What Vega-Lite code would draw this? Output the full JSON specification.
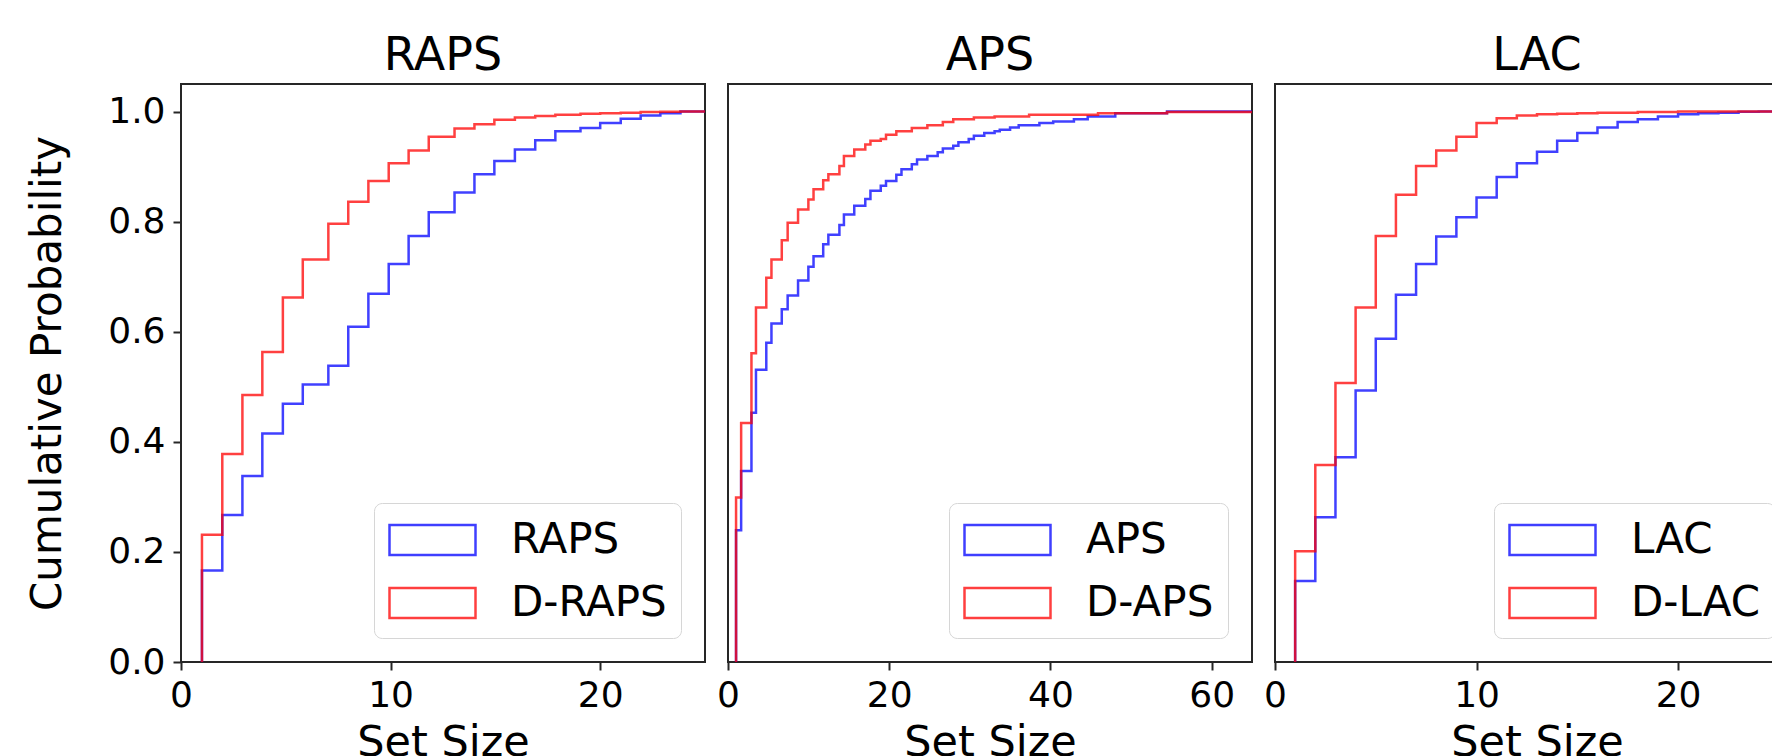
{
  "$schema": "https://vega.github.io/schema/vega-lite/v6.json",
  "background": "white",
  "padding": {"left": 25, "top": 32, "right": 0, "bottom": 0},
  "bounds": "flush",
  "spacing": 23,
  "config": {
    "font": "DejaVu Sans",
    "view": {"stroke": "#262626", "strokeWidth": 2},
    "axis": {"domain": false, "grid": false, "tickColor": "#262626", "tickWidth": 2, "tickSize": 8, "labelFontSize": 36, "labelColor": "black", "labelPadding": 8, "labelFlush": false, "titleFontSize": 43, "titleFontWeight": "normal", "titleColor": "black"},
    "title": {"fontSize": 46, "fontWeight": "normal", "color": "black", "offset": 4},
    "legend": {"labelFontSize": 42, "labelColor": "black", "labelOffset": 77, "rowPadding": 19, "padding": 14, "strokeColor": "#d6d6d6", "fillColor": "rgba(255,255,255,0.8)", "cornerRadius": 8, "labelLimit": 400, "symbolType": "M-1,-0.7H3V0.7H-1Z", "symbolSize": 1849, "symbolStrokeWidth": 2.5, "symbolFillColor": "transparent", "symbolOpacity": 0.75}
  },
  "datasets": {
    "raps": [
      {"method": "RAPS", "x": 1, "y": 0}, {"method": "RAPS", "x": 1, "y": 0.166}, {"method": "RAPS", "x": 1.97, "y": 0.267}, {"method": "RAPS", "x": 2.93, "y": 0.338}, {"method": "RAPS", "x": 3.88, "y": 0.415}, {"method": "RAPS", "x": 4.86, "y": 0.469}, {"method": "RAPS", "x": 5.81, "y": 0.504}, {"method": "RAPS", "x": 7.03, "y": 0.538}, {"method": "RAPS", "x": 7.98, "y": 0.609}, {"method": "RAPS", "x": 8.94, "y": 0.669}, {"method": "RAPS", "x": 9.91, "y": 0.723}, {"method": "RAPS", "x": 10.86, "y": 0.774}, {"method": "RAPS", "x": 11.82, "y": 0.817}, {"method": "RAPS", "x": 13.05, "y": 0.853}, {"method": "RAPS", "x": 14.0, "y": 0.886}, {"method": "RAPS", "x": 14.95, "y": 0.91}, {"method": "RAPS", "x": 15.93, "y": 0.931}, {"method": "RAPS", "x": 16.9, "y": 0.948}, {"method": "RAPS", "x": 17.86, "y": 0.964}, {"method": "RAPS", "x": 19.06, "y": 0.97}, {"method": "RAPS", "x": 20.0, "y": 0.979}, {"method": "RAPS", "x": 20.98, "y": 0.987}, {"method": "RAPS", "x": 21.93, "y": 0.993}, {"method": "RAPS", "x": 22.87, "y": 0.997}, {"method": "RAPS", "x": 23.83, "y": 1.0}, {"method": "RAPS", "x": 25, "y": 1.0},
      {"method": "D-RAPS", "x": 1, "y": 0}, {"method": "D-RAPS", "x": 1, "y": 0.231}, {"method": "D-RAPS", "x": 1.97, "y": 0.378}, {"method": "D-RAPS", "x": 2.93, "y": 0.485}, {"method": "D-RAPS", "x": 3.88, "y": 0.563}, {"method": "D-RAPS", "x": 4.86, "y": 0.662}, {"method": "D-RAPS", "x": 5.81, "y": 0.731}, {"method": "D-RAPS", "x": 7.03, "y": 0.796}, {"method": "D-RAPS", "x": 7.98, "y": 0.836}, {"method": "D-RAPS", "x": 8.94, "y": 0.874}, {"method": "D-RAPS", "x": 9.91, "y": 0.906}, {"method": "D-RAPS", "x": 10.86, "y": 0.929}, {"method": "D-RAPS", "x": 11.82, "y": 0.954}, {"method": "D-RAPS", "x": 13.05, "y": 0.969}, {"method": "D-RAPS", "x": 14.0, "y": 0.977}, {"method": "D-RAPS", "x": 14.95, "y": 0.985}, {"method": "D-RAPS", "x": 15.93, "y": 0.989}, {"method": "D-RAPS", "x": 16.9, "y": 0.992}, {"method": "D-RAPS", "x": 17.86, "y": 0.994}, {"method": "D-RAPS", "x": 19.06, "y": 0.996}, {"method": "D-RAPS", "x": 20.0, "y": 0.997}, {"method": "D-RAPS", "x": 20.98, "y": 0.998}, {"method": "D-RAPS", "x": 21.93, "y": 0.999}, {"method": "D-RAPS", "x": 22.87, "y": 0.9995}, {"method": "D-RAPS", "x": 23.83, "y": 1.0}, {"method": "D-RAPS", "x": 25, "y": 1.0}
    ],
    "aps": [
      {"method": "APS", "x": 1, "y": 0}, {"method": "APS", "x": 1, "y": 0.2395}, {"method": "APS", "x": 1.63, "y": 0.347}, {"method": "APS", "x": 2.91, "y": 0.453}, {"method": "APS", "x": 3.47, "y": 0.531}, {"method": "APS", "x": 4.75, "y": 0.58}, {"method": "APS", "x": 5.39, "y": 0.615}, {"method": "APS", "x": 6.67, "y": 0.641}, {"method": "APS", "x": 7.4, "y": 0.666}, {"method": "APS", "x": 8.69, "y": 0.693}, {"method": "APS", "x": 9.97, "y": 0.718}, {"method": "APS", "x": 10.61, "y": 0.737}, {"method": "APS", "x": 11.81, "y": 0.759}, {"method": "APS", "x": 12.45, "y": 0.776}, {"method": "APS", "x": 13.82, "y": 0.794}, {"method": "APS", "x": 14.38, "y": 0.813}, {"method": "APS", "x": 15.66, "y": 0.829}, {"method": "APS", "x": 17.03, "y": 0.841}, {"method": "APS", "x": 17.67, "y": 0.856}, {"method": "APS", "x": 18.95, "y": 0.865}, {"method": "APS", "x": 19.6, "y": 0.874}, {"method": "APS", "x": 20.88, "y": 0.885}, {"method": "APS", "x": 21.52, "y": 0.895}, {"method": "APS", "x": 22.8, "y": 0.904}, {"method": "APS", "x": 23.45, "y": 0.913}, {"method": "APS", "x": 24.73, "y": 0.919}, {"method": "APS", "x": 26.01, "y": 0.926}, {"method": "APS", "x": 26.65, "y": 0.933}, {"method": "APS", "x": 27.94, "y": 0.938}, {"method": "APS", "x": 28.58, "y": 0.944}, {"method": "APS", "x": 29.86, "y": 0.95}, {"method": "APS", "x": 30.5, "y": 0.956}, {"method": "APS", "x": 31.79, "y": 0.961}, {"method": "APS", "x": 33.07, "y": 0.964}, {"method": "APS", "x": 33.71, "y": 0.967}, {"method": "APS", "x": 34.99, "y": 0.971}, {"method": "APS", "x": 36.06, "y": 0.975}, {"method": "APS", "x": 38.63, "y": 0.979}, {"method": "APS", "x": 40.34, "y": 0.982}, {"method": "APS", "x": 42.91, "y": 0.986}, {"method": "APS", "x": 44.62, "y": 0.991}, {"method": "APS", "x": 48.04, "y": 0.997}, {"method": "APS", "x": 54.46, "y": 1.0}, {"method": "APS", "x": 65, "y": 1.0},
      {"method": "D-APS", "x": 1, "y": 0}, {"method": "D-APS", "x": 1, "y": 0.299}, {"method": "D-APS", "x": 1.63, "y": 0.434}, {"method": "D-APS", "x": 2.91, "y": 0.561}, {"method": "D-APS", "x": 3.47, "y": 0.644}, {"method": "D-APS", "x": 4.75, "y": 0.698}, {"method": "D-APS", "x": 5.39, "y": 0.731}, {"method": "D-APS", "x": 6.67, "y": 0.766}, {"method": "D-APS", "x": 7.4, "y": 0.798}, {"method": "D-APS", "x": 8.69, "y": 0.822}, {"method": "D-APS", "x": 9.97, "y": 0.84}, {"method": "D-APS", "x": 10.61, "y": 0.859}, {"method": "D-APS", "x": 11.81, "y": 0.875}, {"method": "D-APS", "x": 12.45, "y": 0.886}, {"method": "D-APS", "x": 13.82, "y": 0.901}, {"method": "D-APS", "x": 14.38, "y": 0.919}, {"method": "D-APS", "x": 15.66, "y": 0.931}, {"method": "D-APS", "x": 17.03, "y": 0.94}, {"method": "D-APS", "x": 17.67, "y": 0.947}, {"method": "D-APS", "x": 18.95, "y": 0.95}, {"method": "D-APS", "x": 19.6, "y": 0.958}, {"method": "D-APS", "x": 20.88, "y": 0.964}, {"method": "D-APS", "x": 22.8, "y": 0.97}, {"method": "D-APS", "x": 24.73, "y": 0.975}, {"method": "D-APS", "x": 26.65, "y": 0.981}, {"method": "D-APS", "x": 27.94, "y": 0.986}, {"method": "D-APS", "x": 30.5, "y": 0.989}, {"method": "D-APS", "x": 33.07, "y": 0.991}, {"method": "D-APS", "x": 37.35, "y": 0.994}, {"method": "D-APS", "x": 45.9, "y": 0.997}, {"method": "D-APS", "x": 54.46, "y": 0.999}, {"method": "D-APS", "x": 65, "y": 0.999}
    ],
    "lac": [
      {"method": "LAC", "x": 1, "y": 0}, {"method": "LAC", "x": 1, "y": 0.147}, {"method": "LAC", "x": 2, "y": 0.263}, {"method": "LAC", "x": 3, "y": 0.372}, {"method": "LAC", "x": 4, "y": 0.493}, {"method": "LAC", "x": 5, "y": 0.587}, {"method": "LAC", "x": 6, "y": 0.667}, {"method": "LAC", "x": 7, "y": 0.723}, {"method": "LAC", "x": 8, "y": 0.773}, {"method": "LAC", "x": 9, "y": 0.808}, {"method": "LAC", "x": 10, "y": 0.844}, {"method": "LAC", "x": 11, "y": 0.881}, {"method": "LAC", "x": 12, "y": 0.906}, {"method": "LAC", "x": 13, "y": 0.927}, {"method": "LAC", "x": 14, "y": 0.947}, {"method": "LAC", "x": 15, "y": 0.961}, {"method": "LAC", "x": 16, "y": 0.971}, {"method": "LAC", "x": 17, "y": 0.981}, {"method": "LAC", "x": 18, "y": 0.986}, {"method": "LAC", "x": 19, "y": 0.991}, {"method": "LAC", "x": 20, "y": 0.995}, {"method": "LAC", "x": 21, "y": 0.997}, {"method": "LAC", "x": 22, "y": 0.998}, {"method": "LAC", "x": 23, "y": 0.9995}, {"method": "LAC", "x": 24, "y": 1.0}, {"method": "LAC", "x": 26, "y": 1.0},
      {"method": "D-LAC", "x": 1, "y": 0}, {"method": "D-LAC", "x": 1, "y": 0.201}, {"method": "D-LAC", "x": 2, "y": 0.358}, {"method": "D-LAC", "x": 3, "y": 0.507}, {"method": "D-LAC", "x": 4, "y": 0.644}, {"method": "D-LAC", "x": 5, "y": 0.774}, {"method": "D-LAC", "x": 6, "y": 0.849}, {"method": "D-LAC", "x": 7, "y": 0.901}, {"method": "D-LAC", "x": 8, "y": 0.929}, {"method": "D-LAC", "x": 9, "y": 0.954}, {"method": "D-LAC", "x": 10, "y": 0.979}, {"method": "D-LAC", "x": 11, "y": 0.988}, {"method": "D-LAC", "x": 12, "y": 0.993}, {"method": "D-LAC", "x": 13, "y": 0.995}, {"method": "D-LAC", "x": 14, "y": 0.996}, {"method": "D-LAC", "x": 15, "y": 0.997}, {"method": "D-LAC", "x": 16, "y": 0.998}, {"method": "D-LAC", "x": 18, "y": 0.999}, {"method": "D-LAC", "x": 20, "y": 1.0}, {"method": "D-LAC", "x": 26, "y": 1.0}
    ]
  },
  "hconcat": [
    {
      "width": 524, "height": 578,
      "title": "RAPS",
      "data": {"name": "raps"},
      "mark": {"type": "line", "interpolate": "step-after", "strokeWidth": 2.5, "opacity": 0.75, "clip": true},
      "encoding": {
        "x": {"field": "x", "type": "quantitative", "scale": {"domain": [0, 25], "nice": false, "zero": false}, "axis": {"values": [0, 10, 20], "title": "Set Size", "titlePadding": 8}},
        "y": {"field": "y", "type": "quantitative", "scale": {"domain": [0, 1.05], "nice": false}, "axis": {"values": [0, 0.2, 0.4, 0.6, 0.8, 1.0], "format": ".1f", "title": "Cumulative Probability", "titleFontSize": 42, "titlePadding": 38}},
        "color": {"field": "method", "type": "nominal", "sort": ["RAPS", "D-RAPS"], "scale": {"domain": ["RAPS", "D-RAPS"], "range": ["#0000ff", "#ff0000"]}, "legend": {"title": null, "orient": "none", "legendX": 193, "legendY": 419}}
      }
    },
    {
      "width": 524, "height": 578,
      "title": "APS",
      "data": {"name": "aps"},
      "mark": {"type": "line", "interpolate": "step-after", "strokeWidth": 2.5, "opacity": 0.75, "clip": true},
      "encoding": {
        "x": {"field": "x", "type": "quantitative", "scale": {"domain": [0, 65], "nice": false, "zero": false}, "axis": {"values": [0, 20, 40, 60], "title": "Set Size", "titlePadding": 8}},
        "y": {"field": "y", "type": "quantitative", "scale": {"domain": [0, 1.05], "nice": false}, "axis": null},
        "color": {"field": "method", "type": "nominal", "sort": ["APS", "D-APS"], "scale": {"domain": ["APS", "D-APS"], "range": ["#0000ff", "#ff0000"]}, "legend": {"title": null, "orient": "none", "legendX": 221, "legendY": 419}}
      }
    },
    {
      "width": 524, "height": 578,
      "title": "LAC",
      "data": {"name": "lac"},
      "mark": {"type": "line", "interpolate": "step-after", "strokeWidth": 2.5, "opacity": 0.75, "clip": true},
      "encoding": {
        "x": {"field": "x", "type": "quantitative", "scale": {"domain": [0, 26], "nice": false, "zero": false}, "axis": {"values": [0, 10, 20], "title": "Set Size", "titlePadding": 8}},
        "y": {"field": "y", "type": "quantitative", "scale": {"domain": [0, 1.05], "nice": false}, "axis": null},
        "color": {"field": "method", "type": "nominal", "sort": ["LAC", "D-LAC"], "scale": {"domain": ["LAC", "D-LAC"], "range": ["#0000ff", "#ff0000"]}, "legend": {"title": null, "orient": "none", "legendX": 219, "legendY": 419}}
      }
    }
  ],
  "resolve": {"scale": {"color": "independent"}, "legend": {"color": "independent"}}
}
